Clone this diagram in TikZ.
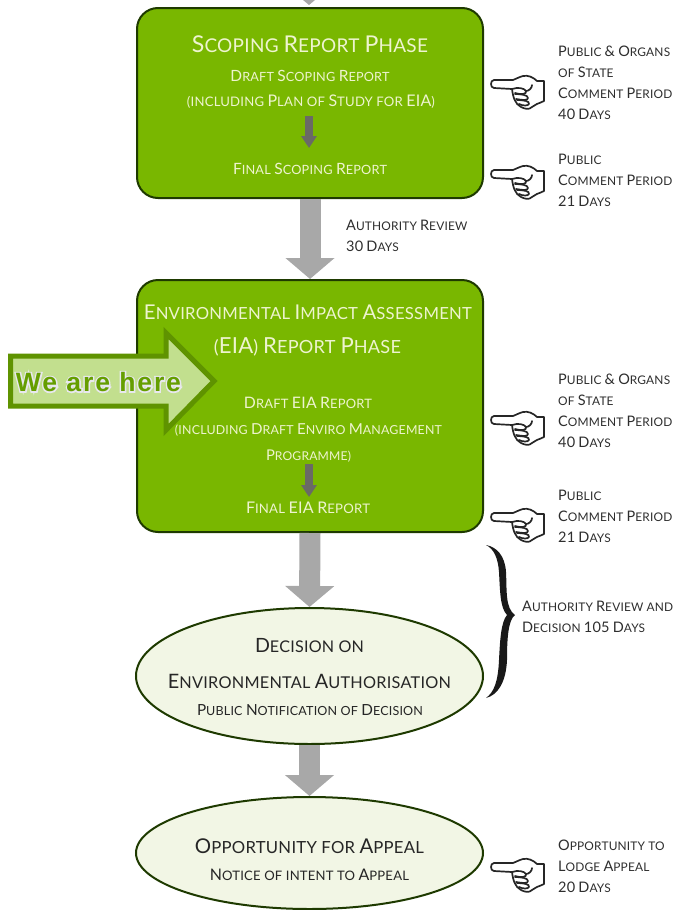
\documentclass[tikz,border=0pt]{standalone}
\usepackage{fontspec}
\usetikzlibrary{arrows.meta,shapes.geometric,calc}
\setmainfont[LetterSpace=1.5]{Lato}
\newfontfamily\herefont[LetterSpace=7]{Liberation Sans Bold}
\newfontfamily\herehalofont[LetterSpace=7,FakeBold=11]{Liberation Sans Bold}
\definecolor{boxgreen}{HTML}{79B700}
\definecolor{boxedge}{HTML}{1E3A00}
\definecolor{paleell}{HTML}{F2F6E5}
\definecolor{boxtext}{HTML}{EEF4CF}
\definecolor{darktext}{HTML}{2E2E2E}
\definecolor{greyarr}{HTML}{A8A8A8}
\definecolor{darkarr}{HTML}{6A6A66}
\definecolor{herefill}{HTML}{C2DF8E}
\definecolor{hereedge}{HTML}{5F9300}
\definecolor{heretext}{HTML}{659E00}
\definecolor{herehalo}{HTML}{E8E8EE}
\newcommand\Cp[1]{\scalebox{1.22}{#1}}
\newcommand\fitw[2]{\resizebox{#1pt}{!}{#2}}
\tikzset{
 phasebox/.style={draw=boxedge,line width=2pt,fill=boxgreen,rounded corners=21pt,minimum width=346pt,inner sep=0},
 stateell/.style={draw=boxedge,line width=2pt,fill=paleell,ellipse,minimum width=347pt,inner sep=0},
 greyflow/.style={draw=greyarr,line width=21pt,-{Triangle[width=48pt,length=21pt,fill=greyarr]}},
 innerflow/.style={draw=darkarr,line width=8pt,-{Triangle[width=15pt,length=12pt,fill=darkarr]}},
 boxlabel/.style={text=boxtext,inner sep=0,font=\fontsize{14}{14}\selectfont},
 elllabel/.style={text=black!85,inner sep=0,font=\fontsize{14}{14}\selectfont},
 sidelabel/.style={text=darktext,inner sep=0,anchor=west,align=left,font=\fontsize{11.9}{21}\selectfont},
 handicon/.pic={
  \begin{scope}[line width=1.7pt,draw=black!85,line join=round,line cap=round]
   \draw[fill=white] (21,6) .. controls (22,14) and (24,21) .. (30,24) .. controls (34,26) and (38,27) .. (41,24)
     .. controls (44,21) and (47,21) .. (53,18) -- (53,-2) -- (46,-2) .. controls (42,-6) and (37,-8) .. (32,-7)
     .. controls (28,-6) and (25,-4) .. (22,-3) -- (3,-3) .. controls (-1,-3) and (-1,5) .. (3,5) -- (21,6);
   \draw (21,6) .. controls (27,4) and (33,5) .. (35,8) .. controls (36,11) and (31,12) .. (24,10);
   \draw (24,11) .. controls (30,11) and (37,12) .. (37,15) .. controls (37,18) and (31,17) .. (25,16);
   \draw (26,17) .. controls (32,17) and (39,18) .. (38,21) .. controls (37,23) and (32,23) .. (28,21);
   \draw (35,8) .. controls (38,8) and (41,5) .. (41,2);
  \end{scope}
 }
}
\begin{document}
\begin{tikzpicture}[x=1pt,y=-1pt]
\useasboundingbox (0,0) rectangle (679,910);
% boxes
\node[phasebox,minimum height=190pt] (scoping) at (310,103) {};
\node[phasebox,minimum height=252pt] (eia) at (310,406) {};
\node[stateell,minimum height=136pt] (decision) at (309.5,676) {};
\node[stateell,minimum height=112pt] (appeal) at (309.5,853) {};
% flow arrows
\coordinate (topin) at (309,0);
\fill[greyarr] (topin) ++(-6,0) -- ++(12,0) -- ($(scoping.north)+(-1,-2)$) -- cycle;
\draw[greyflow] (scoping.south) -- (eia.north);
\draw[greyflow] (eia.south) -- (decision.north);
\draw[greyflow] (decision.south) -- (appeal.north);
% scoping text
\node[boxlabel] at (310,44) {\fitw{236}{\Cp{S}COPING \Cp{R}EPORT \Cp{P}HASE}};
\node[boxlabel] at (310,76) {\fitw{159}{\Cp{D}RAFT \Cp{S}COPING \Cp{R}EPORT}};
\node[boxlabel] (planstudy) at (311,102) {\fitw{248}{(INCLUDING \Cp{P}LAN OF \Cp{S}TUDY FOR \Cp{EIA})}};
\node[boxlabel] (finalscoping) at (310,169) {\fitw{154}{\Cp{F}INAL \Cp{S}COPING \Cp{R}EPORT}};
\coordinate (sa) at (309,116); \coordinate (sb) at (309,148);
\draw[innerflow] (sa) -- (sb);
% eia text
\node[boxlabel] at (308,312) {\fitw{328}{\Cp{E}NVIRONMENTAL \Cp{I}MPACT \Cp{A}SSESSMENT}};
\node[boxlabel] at (307.5,347) {\fitw{187}{(\Cp{EIA}) \Cp{R}EPORT \Cp{P}HASE}};
\node[boxlabel] at (308,403) {\fitw{128}{\Cp{D}RAFT \Cp{EIA} \Cp{R}EPORT}};
\node[boxlabel] at (308.5,430) {\fitw{267}{(INCLUDING \Cp{D}RAFT \Cp{E}NVIRO \Cp{M}ANAGEMENT}};
\node[boxlabel] at (308.5,456) {\fitw{85}{\Cp{P}ROGRAMME)}};
\node[boxlabel] at (308,508) {\fitw{124}{\Cp{F}INAL \Cp{EIA} \Cp{R}EPORT}};
\coordinate (ea) at (309,464); \coordinate (eb) at (309,497);
\draw[innerflow] (ea) -- (eb);
% ellipse text
\node[elllabel] at (309.5,646) {\fitw{109}{\Cp{D}ECISION ON}};
\node[elllabel] at (309.5,681) {\fitw{283}{\Cp{E}NVIRONMENTAL \Cp{A}UTHORISATION}};
\node[elllabel] at (310,710) {\fitw{226}{\Cp{P}UBLIC \Cp{N}OTIFICATION OF \Cp{D}ECISION}};
\node[elllabel] at (309.5,846) {\fitw{229}{\Cp{O}PPORTUNITY FOR \Cp{A}PPEAL}};
\node[elllabel] at (309.5,875) {\fitw{199}{\Cp{N}OTICE OF INTENT TO \Cp{A}PPEAL}};
% side labels
\node[sidelabel] (c1) at (558,82.5) {\Cp{P}UBLIC \Cp{\&} \Cp{O}RGANS\\OF \Cp{S}TATE\\\Cp{C}OMMENT \Cp{P}ERIOD\\\Cp{40} \Cp{D}AYS};
\node[sidelabel] (c2) at (558,180) {\Cp{P}UBLIC\\\Cp{C}OMMENT \Cp{P}ERIOD\\\Cp{21} \Cp{D}AYS};
\node[sidelabel] (c3) at (346,235.5) {\Cp{A}UTHORITY \Cp{R}EVIEW\\\Cp{30} \Cp{D}AYS};
\node[sidelabel] (c4) at (558,410.5) {\Cp{P}UBLIC \Cp{\&} \Cp{O}RGANS\\OF \Cp{S}TATE\\\Cp{C}OMMENT \Cp{P}ERIOD\\\Cp{40} \Cp{D}AYS};
\node[sidelabel] (c5) at (558,516) {\Cp{P}UBLIC\\\Cp{C}OMMENT \Cp{P}ERIOD\\\Cp{21} \Cp{D}AYS};
\node[sidelabel] (c6) at (522,616.5) {\Cp{A}UTHORITY \Cp{R}EVIEW AND\\\Cp{D}ECISION \Cp{105} \Cp{D}AYS};
\node[sidelabel] (c7) at (558,866) {\Cp{O}PPORTUNITY TO\\\Cp{L}ODGE \Cp{A}PPEAL\\\Cp{20} \Cp{D}AYS};
% hands
\pic at (491,83) {handicon};
\pic at (491,173) {handicon};
\pic at (491,419) {handicon};
\pic at (491,516) {handicon};
\pic at (491,866) {handicon};
% brace
\fill[black!90] (486,545) .. controls (497,547) and (505,556) .. (506,572)
  .. controls (507,590) and (505,608) .. (515,615)
  .. controls (508,620) and (507,640) .. (507,660)
  .. controls (506,682) and (498,695) .. (486,698)
  .. controls (494,692) and (498,682) .. (499,660)
  .. controls (500,640) and (501,622) .. (507,615)
  .. controls (500,608) and (500,590) .. (499,572)
  .. controls (498,558) and (494,549) .. (486,545) -- cycle;
% we are here
\draw[draw=hereedge,line width=5pt,fill=herefill,miter limit=10] (10.5,356) -- (166,356) -- (166,333) -- (214,381) -- (166,430) -- (166,406) -- (10.5,406) -- cycle;
\node[inner sep=0,text=heretext,font=\fontsize{23}{23}\selectfont] (here) at (98.5,382) {\fitw{165}{\rlap{\color{herehalo}\herehalofont We are here}\herefont We are here}};
\end{tikzpicture}
\end{document}
